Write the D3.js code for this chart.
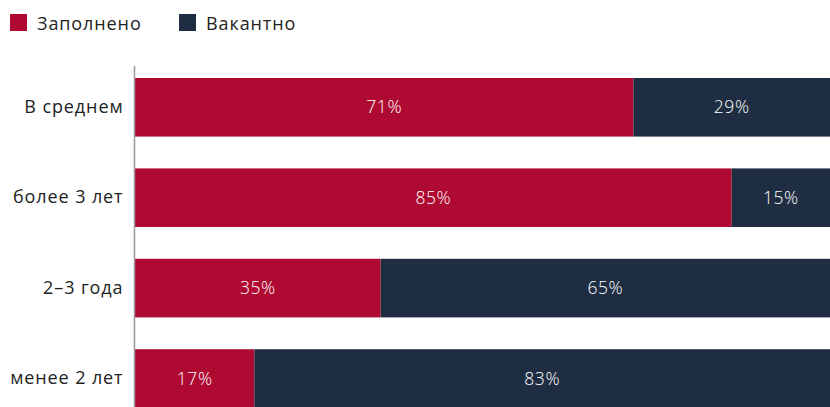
<!DOCTYPE html>
<html>
<head>
<meta charset="utf-8">
<script src="https://cdn.jsdelivr.net/npm/d3@7"></script>
<style>
  body { margin: 0; background: #fff; }
  svg { display: block; font-family: "Open Sans", "Noto Sans", sans-serif; }
</style>
</head>
<body>
<div id="chart"></div>
<script>
// categories, top to bottom
const categories = ["В среднем", "более 3 лет", "2–3 года", "менее 2 лет"];
const filled = [71, 85, 35, 17];
const vacant = [29, 15, 65, 83];
const seriesNames = ["Заполнено", "Вакантно"];
const colors = ["#ae0a32", "#1f2d42"];

const width = 830, height = 407;
const left = 135;

const svg = d3.select("#chart")
  .append("svg")
  .attr("width", width)
  .attr("height", height);

// --- legend ---
const legend = svg.append("g");
const legendX = [10, 179];
seriesNames.forEach((name, i) => {
  legend.append("rect")
    .attr("x", legendX[i]).attr("y", 14)
    .attr("width", 17).attr("height", 17)
    .attr("fill", colors[i]);
  legend.append("text")
    .attr("x", legendX[i] + 27).attr("y", 30)
    .attr("font-size", 18)
    .attr("letter-spacing", 0.9)
    .attr("fill", "#222")
    .text(name);
});

// --- scales ---
const x = d3.scaleLinear().domain([0, 100]).range([left, left + 702]);
const y = d3.scaleBand()
  .domain(categories)
  .range([62.1, 423.7])
  .paddingInner(0.352)
  .paddingOuter(0.176);

const rows = categories.map((c, i) => ({ cat: c, values: [filled[i], vacant[i]] }));

const row = svg.selectAll("g.row")
  .data(rows)
  .join("g")
  .attr("class", "row");

row.each(function(d) {
  const g = d3.select(this);
  let acc = 0;
  d.values.forEach((v, k) => {
    const x0 = x(acc), x1 = x(acc + v);
    g.append("rect")
      .attr("x", x0)
      .attr("y", y(d.cat))
      .attr("width", x1 - x0)
      .attr("height", y.bandwidth())
      .attr("fill", colors[k]);
    g.append("text")
      .attr("x", (x0 + Math.min(x1, width)) / 2)
      .attr("y", y(d.cat) + y.bandwidth() / 2)
      .attr("dy", "0.35em")
      .attr("text-anchor", "middle")
      .attr("font-size", 17.5)
      .attr("font-weight", 300)
      .attr("letter-spacing", 0.6)
      .attr("fill", "#fff")
      .text(v + "%");
    acc += v;
  });
});

// --- y axis ---
const yAxis = d3.axisLeft(y).tickSize(0).tickPadding(11);
const ag = svg.append("g")
  .attr("transform", `translate(${left - 0.5},0)`)
  .call(yAxis);
ag.select(".domain").remove();
ag.append("line")
  .attr("x1", 0).attr("x2", 0)
  .attr("y1", 66).attr("y2", height)
  .attr("stroke", "#999").attr("stroke-width", 1.5);
ag.selectAll(".tick text")
  .attr("font-size", 18)
  .attr("letter-spacing", 0.9)
  .attr("fill", "#222")
  .style("font-family", '"Open Sans", "Noto Sans", sans-serif');
</script>
</body>
</html>
